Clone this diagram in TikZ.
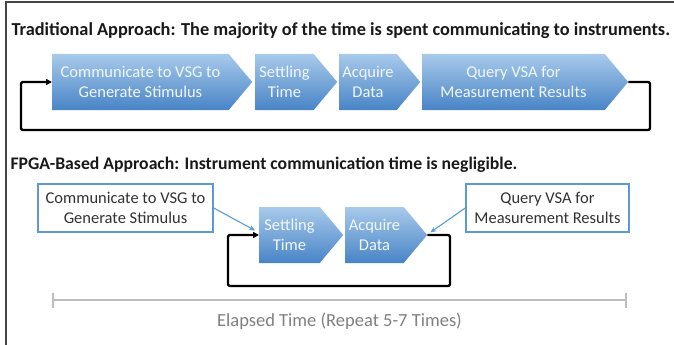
\documentclass[tikz,border=0pt]{standalone}
\usepackage{fontspec}
\setmainfont{Carlito}
\usepackage{tikz}
\usetikzlibrary{arrows.meta,positioning,calc,shapes.symbols}
\definecolor{stepblue}{RGB}{91,155,213}
\definecolor{steplight}{RGB}{168,202,235}
\definecolor{stepdark}{RGB}{72,132,198}
\definecolor{darktext}{RGB}{50,50,50}
\definecolor{framegray}{RGB}{70,70,70}
\definecolor{timegray}{RGB}{190,190,190}
\tikzset{
  chev/.style={shape=signal,signal to=east,signal pointer angle=100,
    top color=steplight,bottom color=stepdark,draw=none,
    minimum height=56pt,inner sep=2pt,anchor=west,align=center,
    text=white!92!stepblue,font=\fontsize{16.5}{20}\selectfont},
  callbox/.style={draw=stepblue,line width=1.4pt,fill=white,
    text=darktext,align=center,inner sep=2pt,
    font=\fontsize{16.5}{20}\selectfont},
  loopline/.style={-{Triangle[length=6pt,width=6pt]},line width=2.4pt,
    draw=black,rounded corners=1.5pt},
  pointer/.style={-{Stealth[length=6pt,width=5pt]},line width=1.1pt,
    draw=stepblue,shorten >=1pt},
  headline/.style={anchor=west,font=\fontsize{18.3}{21}\selectfont\bfseries,
    text=black!90},
  timeline/.style={{Bar[width=15pt]}-{Bar[width=15pt]},line width=1.8pt,
    draw=timegray}
}
\begin{document}
\begin{tikzpicture}[x=1pt,y=-1pt]

  \useasboundingbox (0,0) rectangle (674,345);
  \fill[white] (0,0) rectangle (674,345);
  \draw[framegray,line width=1.5pt] (6,345)--(6,2)--(674,2);

  \node[headline] (titleOld) at (8,31)
    {Traditional Approach: The majority of the time is spent communicating to instruments.};

  \node[chev,minimum width=200pt] (comm)    at (52,82)  {Communicate to VSG to\\Generate Stimulus};
  \node[chev,minimum width=82pt]  (settle)  at (255,82) {Settling\\Time};
  \node[chev,minimum width=81pt]  (acquire) at (339,82) {Acquire\\Data};
  \node[chev,minimum width=206pt] (query)   at (422,82) {Query VSA for\\Measurement Results};

  \coordinate (topR) at (650,130);
  \coordinate (topL) at (21,82);
  \draw[loopline] (query.east) -| (topR) -| (topL) -- (comm.west);

  \node[headline,font=\fontsize{17.7}{21}\selectfont\bfseries] (titleNew) at (7,165)
    {FPGA-Based Approach: Instrument communication time is negligible.};

  \node[chev,minimum width=84pt] (settleF)  at (259,235) {Settling\\Time};
  \node[chev,minimum width=82pt] (acquireF) at (345,235) {Acquire\\Data};

  \coordinate (botR) at (450,286);
  \coordinate (botL) at (228,235);
  \draw[loopline] (acquireF.east) -| (botR) -| (botL) -- (settleF.west);

  \node[callbox,minimum width=175pt,minimum height=48pt] (commbox) at (125.5,208)
    {Communicate to VSG to\\Generate Stimulus};
  \node[callbox,minimum width=163pt,minimum height=48pt] (querybox) at (547.5,208)
    {Query VSA for\\Measurement Results};

  \draw[pointer] (commbox.east) -- ($(settleF.west)+(-3,-4)$);
  \draw[pointer] (querybox.west) -- ($(acquireF.east)+(2,-2)$);

  \coordinate (elL) at (52,300);
  \coordinate (elR) at (627,300);
  \draw[timeline] (elL) -- (elR);
  \node[font=\fontsize{18.5}{21}\selectfont,text=black!50] (elapsed) at (339.5,321)
    {Elapsed Time (Repeat 5-7 Times)};

\end{tikzpicture}
\end{document}
